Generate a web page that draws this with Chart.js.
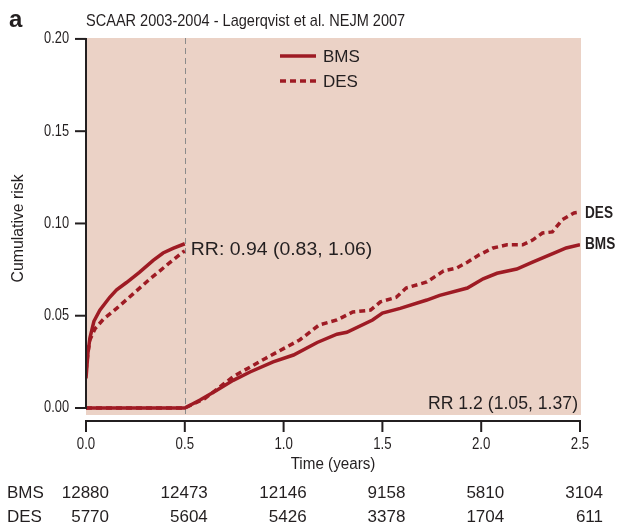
<!DOCTYPE html>
<html>
<head>
<meta charset="utf-8">
<script src="https://cdn.jsdelivr.net/npm/chart.js@4"></script>
<style>
  body { margin: 0; background: #fff; }
  #wrap { width: 621px; height: 523px; }
</style>
</head>
<body>
<div id="wrap"><canvas id="riskChart" width="621" height="523"></canvas></div>
<script>
// Landmark analysis, 0-6 months then 6 months-2.5 years
const xTicks = [0, 0.5, 1.0, 1.5, 2.0, 2.5];
const yTicks = [0, 0.05, 0.10, 0.15, 0.20];

const bmsEarlyT = [0, 0.01, 0.02, 0.04, 0.07, 0.12, 0.155, 0.205, 0.27, 0.34, 0.39, 0.44, 0.5];
const bmsEarly  = [0.016, 0.030, 0.038, 0.047, 0.053, 0.060, 0.064, 0.068, 0.0735, 0.080, 0.084, 0.0865, 0.089];

const desEarlyT = [0, 0.01, 0.02, 0.046, 0.087, 0.155, 0.24, 0.324, 0.41, 0.49, 0.5];
const desEarly  = [0.020, 0.030, 0.037, 0.043, 0.048, 0.054, 0.062, 0.070, 0.0775, 0.0845, 0.085];

const bmsLateT = [0, 0.5, 0.577, 0.66, 0.745, 0.83, 0.947, 1.05, 1.17, 1.27, 1.32, 1.45, 1.50, 1.59, 1.725, 1.79, 1.93, 2.01, 2.08, 2.18, 2.26, 2.38, 2.43, 2.5];
const bmsLate  = [0, 0, 0.0043, 0.0095, 0.015, 0.0195, 0.025, 0.0287, 0.0355, 0.040, 0.041, 0.0477, 0.0514, 0.054, 0.0585, 0.061, 0.065, 0.070, 0.073, 0.0753, 0.079, 0.0845, 0.0867, 0.0885];

const desLateT = [0, 0.5, 0.6, 0.745, 0.91, 1.083, 1.18, 1.27, 1.35, 1.44, 1.49, 1.57, 1.62, 1.725, 1.81, 1.875, 1.93, 1.99, 2.06, 2.13, 2.21, 2.26, 2.31, 2.36, 2.41, 2.47, 2.49];
const desLate  = [0, 0, 0.005, 0.017, 0.027, 0.037, 0.045, 0.0477, 0.052, 0.053, 0.0575, 0.060, 0.065, 0.0683, 0.0743, 0.0758, 0.079, 0.083, 0.0867, 0.0884, 0.0884, 0.091, 0.0948, 0.0954, 0.102, 0.1057, 0.106];

// numbers at risk
const atRiskBMS = [12880, 12473, 12146, 9158, 5810, 3104];
const atRiskDES = [5770, 5604, 5426, 3378, 1704, 611];

const RED = '#9e1b24';
const INK = '#231f20';
const SANS = '"Liberation Sans", Arial, sans-serif';

const pts = (ts, vs) => ts.map((t, i) => ({ x: t, y: vs[i] }));

const solid = { borderColor: RED, borderWidth: 3.5, pointRadius: 0, tension: 0, fill: false };
const dashed = { ...solid, borderDash: [6, 4] };

// condensed look: squeeze the glyphs horizontally
function txt(ctx, s, x, y, size, align, sx, bold) {
    ctx.save();
    ctx.font = (bold ? 'bold ' : '') + size + 'px ' + SANS;
    ctx.textAlign = align;
    ctx.textBaseline = 'middle';
    ctx.translate(x, y);
    ctx.scale(sx, 1);
    ctx.fillText(s, 0, 0);
    ctx.restore();
}

const paper = {
    id: 'paper',
    beforeDraw(chart) {
        const { ctx, chartArea: a } = chart;
        ctx.save();
        ctx.fillStyle = '#ebd2c6';
        ctx.fillRect(a.left, a.top, a.right - a.left + 1, a.bottom - a.top);
        ctx.restore();
    },
    beforeDatasetsDraw(chart) {
        const { ctx, chartArea: a, scales: { x } } = chart;
        const px = Math.round(x.getPixelForValue(0.5)) + 0.5;
        ctx.save();
        ctx.strokeStyle = '#8a8a8a';
        ctx.lineWidth = 1;
        ctx.setLineDash([6, 4]);
        ctx.beginPath();
        ctx.moveTo(px, a.top);
        ctx.lineTo(px, a.bottom);
        ctx.stroke();
        ctx.restore();
    },
    afterDraw(chart) {
        const { ctx, chartArea: a, scales: { x, y } } = chart;
        ctx.save();
        ctx.strokeStyle = INK;
        ctx.fillStyle = INK;
        ctx.lineWidth = 2;

        // y axis
        const y0 = y.getPixelForValue(0), y1 = y.getPixelForValue(0.2);
        ctx.beginPath();
        ctx.moveTo(a.left, y0 + 1);
        ctx.lineTo(a.left, y1 - 1);
        ctx.stroke();
        yTicks.forEach(v => {
            const py = y.getPixelForValue(v);
            ctx.beginPath();
            ctx.moveTo(a.left - 11, py);
            ctx.lineTo(a.left, py);
            ctx.stroke();
            txt(ctx, v.toFixed(2), a.left - 17, py, 16, 'right', 0.8);
        });

        // x axis, set a little below the panel
        const ax = a.bottom + 6;
        ctx.beginPath();
        ctx.moveTo(x.getPixelForValue(0) - 1, ax);
        ctx.lineTo(x.getPixelForValue(2.5) + 1, ax);
        ctx.stroke();
        xTicks.forEach(v => {
            const px = x.getPixelForValue(v);
            ctx.beginPath();
            ctx.moveTo(px, ax);
            ctx.lineTo(px, ax + 11);
            ctx.stroke();
            txt(ctx, v.toFixed(1), px, ax + 23, 17, 'center', 0.78);
        });
        const midX = (x.getPixelForValue(0) + x.getPixelForValue(2.5)) / 2;
        txt(ctx, 'Time (years)', midX, ax + 44, 16, 'center', 0.95);

        // y title
        ctx.save();
        ctx.translate(18, (y0 + y1) / 2 + 5);
        ctx.rotate(-Math.PI / 2);
        txt(ctx, 'Cumulative risk', 0, 0, 17, 'center', 0.93);
        ctx.restore();

        // header
        txt(ctx, 'SCAAR 2003-2004 - Lagerqvist et al. NEJM 2007', a.left, 21, 17, 'left', 0.855);
        txt(ctx, 'a', 9, 20, 24, 'left', 1, true);

        // legend
        ctx.strokeStyle = RED;
        ctx.lineWidth = 3.5;
        ctx.beginPath();
        ctx.moveTo(280, 56); ctx.lineTo(316, 56);
        ctx.stroke();
        ctx.setLineDash([6, 4]);
        ctx.beginPath();
        ctx.moveTo(280, 81); ctx.lineTo(316, 81);
        ctx.stroke();
        ctx.setLineDash([]);
        txt(ctx, 'BMS', 323, 57, 17, 'left', 1);
        txt(ctx, 'DES', 323, 82, 17, 'left', 1);

        // relative risks
        txt(ctx, 'RR: 0.94 (0.83, 1.06)', x.getPixelForValue(0.5) + 6, 250, 18, 'left', 1.08);
        txt(ctx, 'RR 1.2 (1.05, 1.37)', a.right - 2, 404, 18, 'right', 0.98);

        // end labels
        txt(ctx, 'DES', a.right + 5, y.getPixelForValue(desLate[desLate.length - 1]) + 1, 17, 'left', 0.8, true);
        txt(ctx, 'BMS', a.right + 5, y.getPixelForValue(bmsLate[bmsLate.length - 1]), 17, 'left', 0.8, true);

        // numbers at risk
        txt(ctx, 'BMS', 7, 493, 17, 'left', 1);
        txt(ctx, 'DES', 7, 517, 17, 'left', 1);
        xTicks.forEach((t, i) => {
            const px = x.getPixelForValue(t) + 23;
            txt(ctx, String(atRiskBMS[i]), px, 493, 17, 'right', 1);
            txt(ctx, String(atRiskDES[i]), px, 517, 17, 'right', 1);
        });
        ctx.restore();
    }
};

new Chart(document.getElementById('riskChart'), {
    type: 'line',
    data: {
        datasets: [
            { label: 'BMS', data: pts(bmsEarlyT, bmsEarly), ...solid },
            { label: 'BMS late', data: pts(bmsLateT, bmsLate), ...solid },
            { label: 'DES', data: pts(desEarlyT, desEarly), ...dashed },
            { label: 'DES late', data: pts(desLateT, desLate), ...dashed }
        ]
    },
    options: {
        responsive: false,
        animation: false,
        layout: { padding: { left: 86, right: 41, top: 38, bottom: 108 } },
        plugins: { legend: { display: false }, tooltip: { enabled: false } },
        scales: {
            x: { type: 'linear', min: 0, max: 2.5, display: false },
            y: { type: 'linear', min: -0.0038, max: 0.2005, display: false }
        }
    },
    plugins: [paper]
});
</script>
</body>
</html>
